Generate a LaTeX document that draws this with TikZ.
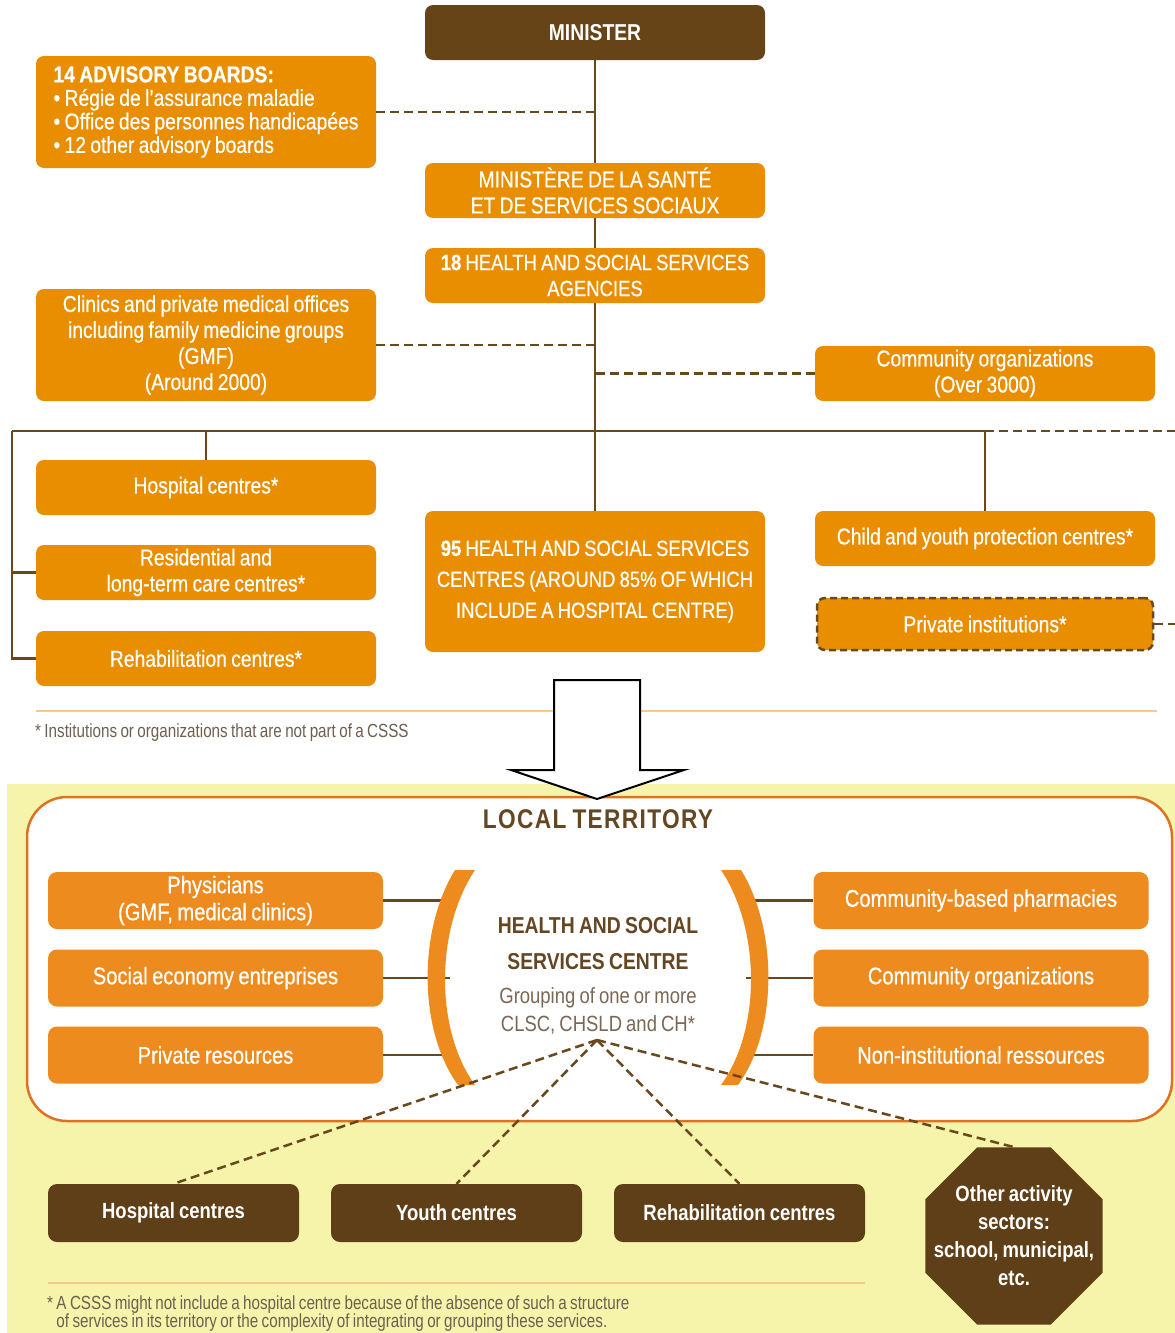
\documentclass[tikz,border=0pt]{standalone}
\usepackage{fontspec}
\setmainfont[FakeStretch=0.84, WordSpace=0.8]{Liberation Sans}
\usetikzlibrary{shapes.geometric}

\definecolor{topor}{RGB}{232,142,0}
\definecolor{topbr}{RGB}{103,68,24}
\definecolor{linebr}{RGB}{105,72,30}
\definecolor{botor}{RGB}{238,139,30}
\definecolor{botbr}{RGB}{94,63,23}
\definecolor{bgyel}{RGB}{245,244,170}
\definecolor{terred}{RGB}{224,112,35}
\definecolor{noteline}{RGB}{248,200,140}
\definecolor{notetxt}{RGB}{110,95,80}
\definecolor{grptxt}{RGB}{122,104,86}
\definecolor{titlebr}{RGB}{100,70,35}

\newcommand{\heavy}{\addfontfeature{FakeBold=0.6}}

\tikzset{
  orbox/.style={rectangle, rounded corners=8, fill=topor, text=white, minimum width=340,
    minimum height=55, align=center, inner sep=2, font=\heavy\fontsize{23}{26}\selectfont},
  brbox/.style={orbox, fill=topbr, font=\bfseries\fontsize{23}{26}\selectfont},
  locbox/.style={rectangle, rounded corners=9, fill=botor, text=white, minimum width=335,
    minimum height=57, align=center, inner sep=2, font=\heavy\fontsize{24}{27}\selectfont},
  dkbox/.style={locbox, fill=botbr, minimum width=251, minimum height=58,
    font=\bfseries\fontsize{22}{26}\selectfont},
  conn/.style={draw=linebr, line width=2.5},
  dashline/.style={draw=linebr, line width=2.5, dash pattern=on 9pt off 5pt},
  noteln/.style={draw=noteline, line width=2.5},
  note/.style={text=notetxt, inner sep=0, font=\addfontfeature{FakeStretch=0.8}\fontsize{19}{18}\selectfont}
}

\begin{document}
\begin{tikzpicture}[x=1pt, y=-1pt]
    \useasboundingbox (0,0) rectangle (1175,1333);

    % upper chart: the ministry and the network
    \node[brbox] (minister) at (595,32.5) {MINISTER};
    \node[orbox, minimum height=112, align=left, font=\heavy\fontsize{23}{23.5}\selectfont] (advisory) at (206,112)
        {\textbf{14 ADVISORY BOARDS:}\\• Régie de l’assurance maladie\\• Office des personnes handicapées\\• 12 other advisory boards};
    \node[orbox] (msss) at (595,190.5) {MINISTÈRE DE LA SANTÉ\\ET DE SERVICES SOCIAUX};
    \node[orbox, font=\heavy\fontsize{22}{26}\selectfont] (agencies) at (595,275.5) {\textbf{18} HEALTH AND SOCIAL SERVICES\\AGENCIES};
    \node[orbox, minimum height=112] (clinics) at (206,345)
        {Clinics and private medical offices\\including family medicine groups\\(GMF)\\(Around 2000)};
    \node[orbox] (commorg) at (985,373.5) {Community organizations\\(Over 3000)};
    \node[orbox] (hospst) at (206,487.5) {Hospital centres*};
    \node[orbox] (resid) at (206,572.5) {Residential and\\long-term care centres*};
    \node[orbox] (rehabst) at (206,658.5) {Rehabilitation centres*};
    \node[orbox, minimum height=141, font=\heavy\fontsize{22}{31}\selectfont] (csss) at (595,581.5)
        {\textbf{95} HEALTH AND SOCIAL SERVICES\\CENTRES (AROUND 85\% OF WHICH\\INCLUDE A HOSPITAL CENTRE)};
    \node[orbox] (youthprot) at (985,538.5) {Child and youth protection centres*};
    \node[orbox, draw=linebr, line width=2.5, dash pattern=on 7pt off 4pt, minimum width=336, minimum height=52] (privinst) at (985,624) {Private institutions*};

    % links of the upper chart
    \coordinate (barL) at (12,431);
    \coordinate (barR) at (1175,431);
    \draw[conn] (minister) -- (msss);
    \draw[conn] (msss) -- (agencies);
    \draw[conn] (agencies) -- (csss);
    \draw[dashline] (advisory) -- (advisory -| minister);
    \draw[dashline] (clinics) -- (clinics -| minister);
    \draw[dashline] (commorg) -- (commorg -| minister);
    \draw[conn] (barL) -- (youthprot |- barL);
    \draw[dashline] (youthprot |- barL) -- (barR);
    \draw[conn] (hospst) -- (hospst |- barL);
    \draw[conn] (youthprot) -- (youthprot |- barL);
    \draw[conn] (barL) |- (rehabst);
    \draw[conn] (resid) -- (resid -| barL);
    \draw[dashline] (privinst) -- (privinst -| barR);

    % first footnote
    \draw[noteln] (36,711) -- (1157,711);
    \node[note, anchor=west] (note1) at (35,733) {* Institutions or organizations that are not part of a CSSS};

    % lower part: the local territory
    \fill[bgyel] (7,784) rectangle (1175,1333);
    \draw[terred, line width=2.5, fill=white, rounded corners=40] (27,797) rectangle (1172,1121);
    \node[text=titlebr, font=\bfseries\addfontfeature{LetterSpace=5}\fontsize{27}{30}\selectfont] (territory) at (598,819) {LOCAL TERRITORY};

    % arrow from the chart down to the territory
    \draw[black, line width=2, fill=white] (554,680) -- (640,680) -- (640,770) -- (684,770)
        -- (597,799) -- (511,770) -- (554,770) -- cycle;

    % partners round the centre
    \node[locbox] (physic) at (215.5,900.5) {Physicians\\(GMF, medical clinics)};
    \node[locbox] (soceco) at (215.5,978) {Social economy entreprises};
    \node[locbox] (privres) at (215.5,1055) {Private resources};
    \node[locbox] (pharma) at (981,900.5) {Community-based pharmacies};
    \node[locbox] (comorg) at (981,978) {Community organizations};
    \node[locbox] (noninst) at (981,1055) {Non-institutional ressources};

    \coordinate (parL) at (450,978);
    \coordinate (parR) at (746,978);
    \foreach \b in {physic, soceco, privres} \draw[conn] (\b) -- (\b -| parL);
    \foreach \b in {pharma, comorg, noninst} \draw[conn] (\b) -- (\b -| parR);

    % the two brackets
    \fill[botor] (455,870) .. controls (418,930) and (418,1030) .. (458,1085) -- (475,1085)
        .. controls (435,1030) and (435,930) .. (475,870) -- cycle;
    \fill[botor] (741,870) .. controls (778,930) and (778,1030) .. (738,1085) -- (721,1085)
        .. controls (761,1030) and (761,930) .. (721,870) -- cycle;

    % the centre itself
    \node[align=center, text=titlebr, font=\bfseries\fontsize{23}{36}\selectfont] (hssc) at (598,944)
        {HEALTH AND SOCIAL\\SERVICES CENTRE};
    \node[align=center, text=grptxt, font=\fontsize{22}{28}\selectfont] (grouping) at (598,1011)
        {Grouping of one or more\\CLSC, CHSLD and CH*};
    \coordinate (hub) at (597,1040);

    % institutions that may be grouped in it
    \node[dkbox] (hospc) at (173.5,1213) {Hospital centres};
    \node[dkbox] (youthc) at (456.5,1213) {Youth centres};
    \node[dkbox] (rehabc) at (739.5,1213) {Rehabilitation centres};
    \node[regular polygon, regular polygon sides=8, minimum size=192, inner sep=0, fill=botbr,
        label={[align=center, text=white, font=\bfseries\fontsize{22}{28}\selectfont]center:Other activity\\sectors:\\school, municipal,\\etc.}] (othersec) at (1014,1236) {};
    \foreach \b in {hospc, youthc, rehabc, othersec} \draw[dashline] (hub) -- (\b.north);

    % second footnote
    \draw[noteln] (48,1283) -- (865,1283);
    \node[note, anchor=north west, align=left] (note2) at (47,1296)
        {* A CSSS might not include a hospital centre because of the absence of such a structure\\
         \phantom{* }of services in its territory or the complexity of integrating or grouping these services.};
\end{tikzpicture}
\end{document}
